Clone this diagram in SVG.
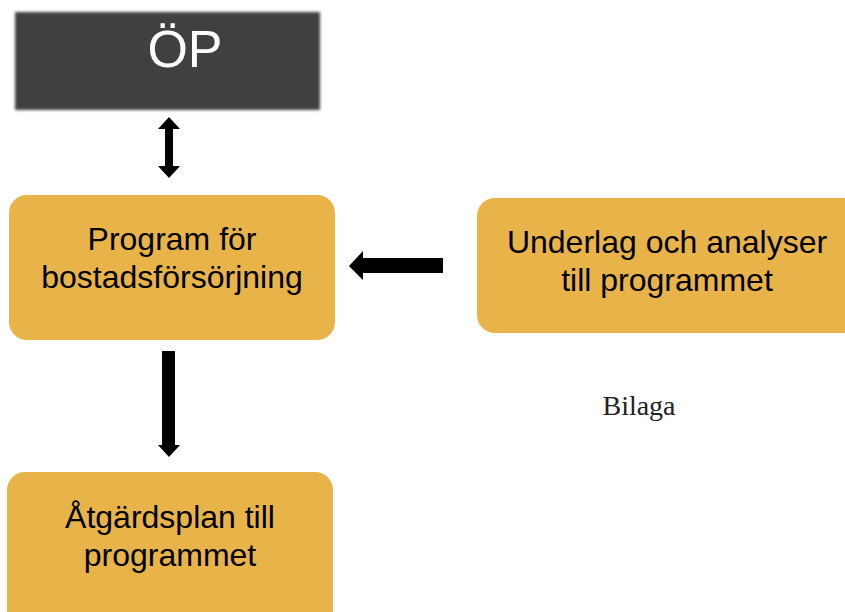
<svg xmlns="http://www.w3.org/2000/svg" width="845" height="612" viewBox="0 0 845 612">
<style>
.box{fill:#E8B44A}
.t{font-family:"Liberation Sans",Arial,sans-serif;font-size:32px;fill:#000;text-anchor:middle}
.arr{fill:#000}
</style>
<defs>
<filter id="soft" x="-10%" y="-20%" width="120%" height="140%"><feGaussianBlur stdDeviation="1.5"/></filter>
</defs>
<rect width="845" height="612" fill="#fff"/>
<g id="op">
<rect x="15" y="12" width="305" height="98" fill="#404040" filter="url(#soft)"/>
<text x="185" y="67" font-family="'Liberation Sans',Arial,sans-serif" font-size="52" fill="#fff" text-anchor="middle">ÖP</text>
</g>
<g id="program">
<rect class="box" x="9" y="195" width="326" height="145" rx="18"/>
<text class="t" x="172" y="250">Program för</text>
<text class="t" x="172" y="288">bostadsförsörjning</text>
</g>
<g id="underlag">
<rect class="box" x="477" y="198" width="390" height="135" rx="18"/>
<text class="t" x="667" y="253">Underlag och analyser</text>
<text class="t" x="667" y="291">till programmet</text>
</g>
<g id="atgard">
<rect class="box" x="7" y="472" width="326" height="160" rx="18"/>
<text class="t" x="170" y="528">Åtgärdsplan till</text>
<text class="t" x="170" y="566">programmet</text>
</g>
<text x="639" y="415" font-family="'Liberation Serif','Times New Roman',serif" font-size="28" fill="#222" text-anchor="middle">Bilaga</text>
<g id="connectors">
<path class="arr" d="M169,117 L180,129 L173,129 L173,166 L180,166 L169,178 L158,166 L165,166 L165,129 L158,129 Z"/>
<path class="arr" d="M443,258 L363,258 L363,251 L349,266 L363,280 L363,273 L443,273 Z"/>
<path class="arr" d="M162,351 L175,351 L175,445 L180,445 L169,457 L158,445 L162,445 Z"/>
</g>
</svg>
